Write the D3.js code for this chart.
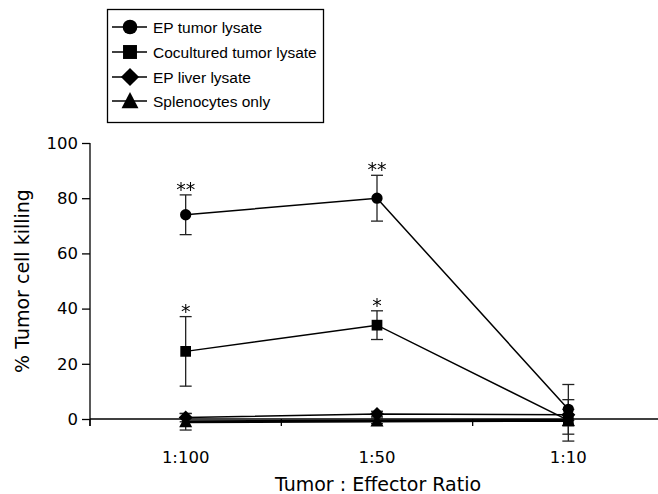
<!DOCTYPE html>
<html>
<head>
<meta charset="utf-8">
<script src="https://cdn.jsdelivr.net/npm/d3@7"></script>
<style>
  html, body { margin: 0; padding: 0; background: #fff; }
  svg { display: block; }
  .dv { font-family: 'DejaVu Sans', Verdana, sans-serif; fill: #000; }
  .lib { font-family: 'Liberation Sans', Arial, sans-serif; fill: #000; }
  .stars { opacity: 0.99; will-change: transform; }
</style>
</head>
<body>
<svg id="chart" width="658" height="494"></svg>
<script>
// ---- data ----
const categories = ["1:100", "1:50", "1:10"];
const seriesNames = ["EP tumor lysate", "Cocultured tumor lysate", "EP liver lysate", "Splenocytes only"];
const epTumorValues = [74, 80, 3.5];
const epTumorErrors = [7.2, 8.3, 9];
const epTumorStars = ["**", "**", ""];
const coculturedValues = [24.5, 34, -0.5];
const coculturedErrors = [12.6, 5.2, 7.5];
const coculturedStars = ["*", "*", ""];
const epLiverValues = [0.5, 1.8, 1.5];
const epLiverErrors = [1.5, 1, 2];
const splenocyteValues = [-1, -0.7, -0.5];
const splenocyteErrors = [3, 1, 2];
const yTicks = [0, 20, 40, 60, 80, 100];
const xTitle = "Tumor : Effector Ratio";
const yTitle = "% Tumor cell killing";

const series = [
  { name: seriesNames[0], values: epTumorValues, errors: epTumorErrors, stars: epTumorStars, shape: "circle", lw: 1.5 },
  { name: seriesNames[1], values: coculturedValues, errors: coculturedErrors, stars: coculturedStars, shape: "square", lw: 1.5 },
  { name: seriesNames[2], values: epLiverValues, errors: epLiverErrors, stars: null, shape: "diamond", lw: 1.5 },
  { name: seriesNames[3], values: splenocyteValues, errors: splenocyteErrors, stars: null, shape: "triangle", lw: 3 }
];

const svg = d3.select("#chart");
const x = d3.scaleBand().domain(categories).range([90, 664]);
const y = d3.scaleLinear().domain([0, 100]).range([419, 143]);
const cx = c => x(c) + x.bandwidth() / 2;

function shapePath(shape, k) {
  switch (shape) {
    case "circle": return d3.symbol(d3.symbolCircle, 100 * k * k)();
    case "square": return d3.symbol(d3.symbolSquare, 115 * k * k)();
    case "diamond": return `M0,${-7*k}L${7*k},0L0,${7*k}L${-7*k},0Z`;
    case "triangle": return `M0,${-7*k}L${6.5*k},${5.5*k}H${-6.5*k}Z`;
  }
}

// ---- axes ----
const yAxis = d3.axisLeft(y).tickValues(yTicks).tickSize(8).tickPadding(4).tickSizeOuter(0);
const gy = svg.append("g").attr("transform", "translate(90,0)").call(yAxis);
gy.select(".domain").remove();
gy.append("line").attr("x1", 0).attr("x2", 0).attr("y1", y(100)).attr("y2", 426).attr("stroke", "#000").attr("stroke-width", 1.3);
gy.selectAll(".tick line").attr("stroke", "#000").attr("stroke-width", 1.3);
gy.selectAll(".tick text").attr("class", "dv").attr("font-family", null).attr("font-size", 16.5);

const xTickPositions = categories.map(c => x(c));
const gx = svg.append("g");
gx.append("line").attr("x1", 90).attr("x2", 664).attr("y1", y(0)).attr("y2", y(0)).attr("stroke", "#000").attr("stroke-width", 1.3);
gx.selectAll("line.tk").data(xTickPositions.concat([664])).join("line").attr("class", "tk")
  .attr("x1", d => d).attr("x2", d => d).attr("y1", y(0)).attr("y2", y(0) + 7)
  .attr("stroke", "#000").attr("stroke-width", 1.3);
gx.selectAll("text.lbl").data(categories).join("text").attr("class", "lbl dv")
  .attr("x", d => cx(d)).attr("y", 463).attr("text-anchor", "middle")
  .attr("font-size", 16.5).text(d => d);

svg.append("text").attr("class", "dv").attr("x", 378).attr("y", 491).attr("text-anchor", "middle")
  .attr("font-size", 19).text(xTitle);
svg.append("text").attr("class", "dv").attr("transform", "translate(29,281) rotate(-90)").attr("text-anchor", "middle")
  .attr("font-size", 19).text(yTitle);

// ---- error bars ----
const plot = svg.append("g");
series.forEach(s => {
  const g = plot.append("g");
  categories.forEach((c, i) => {
    const v = s.values[i], e = s.errors[i];
    const px = cx(c);
    g.append("line").attr("x1", px).attr("x2", px).attr("y1", y(v + e)).attr("y2", y(v - e)).attr("stroke", "#222").attr("stroke-width", 1.3);
    [v + e, v - e].forEach(ev => g.append("line").attr("x1", px - 6).attr("x2", px + 6).attr("y1", y(ev)).attr("y2", y(ev)).attr("stroke", "#222").attr("stroke-width", 1.3));
  });
});

// ---- lines ----
const line = d3.line().x(d => cx(d.c)).y(d => y(d.v));
series.slice().reverse().forEach(s => {
  plot.append("path").datum(categories.map((c, i) => ({ c, v: s.values[i] })))
    .attr("d", line).attr("fill", "none").attr("stroke", "#000").attr("stroke-width", s.lw);
});

// ---- markers ----
series.slice().reverse().forEach(s => {
  categories.forEach((c, i) => {
    plot.append("path").attr("d", shapePath(s.shape, 1))
      .attr("transform", `translate(${cx(c)},${y(s.values[i])})`).attr("fill", "#000");
  });
});

// ---- significance stars ----
const starG = svg.append("g").attr("class", "stars");
series.forEach(s => {
  if (!s.stars) return;
  categories.forEach((c, i) => {
    if (!s.stars[i]) return;
    starG.append("text").attr("class", "dv").attr("x", cx(c)).attr("y", y(s.values[i] + s.errors[i]) + 1)
      .attr("text-anchor", "middle").attr("font-size", 19).text(s.stars[i]);
  });
});

// ---- legend ----
const lg = svg.append("g");
lg.append("rect").attr("x", 107.5).attr("y", 9.5).attr("width", 216).attr("height", 113)
  .attr("fill", "#fff").attr("stroke", "#000").attr("stroke-width", 1.3);
const legendY = [27, 52, 77, 101];
series.forEach((s, i) => {
  const ly = legendY[i];
  lg.append("line").attr("x1", 112).attr("x2", 147).attr("y1", ly).attr("y2", ly).attr("stroke", "#000").attr("stroke-width", 1.3);
  lg.append("path").attr("d", shapePath(s.shape, 1.3)).attr("transform", `translate(130,${ly})`).attr("fill", "#000");
  lg.append("text").attr("class", "lib").attr("x", 153).attr("y", ly + 5.5)
    .attr("font-size", 15.5).text(s.name);
});
</script>
</body>
</html>
